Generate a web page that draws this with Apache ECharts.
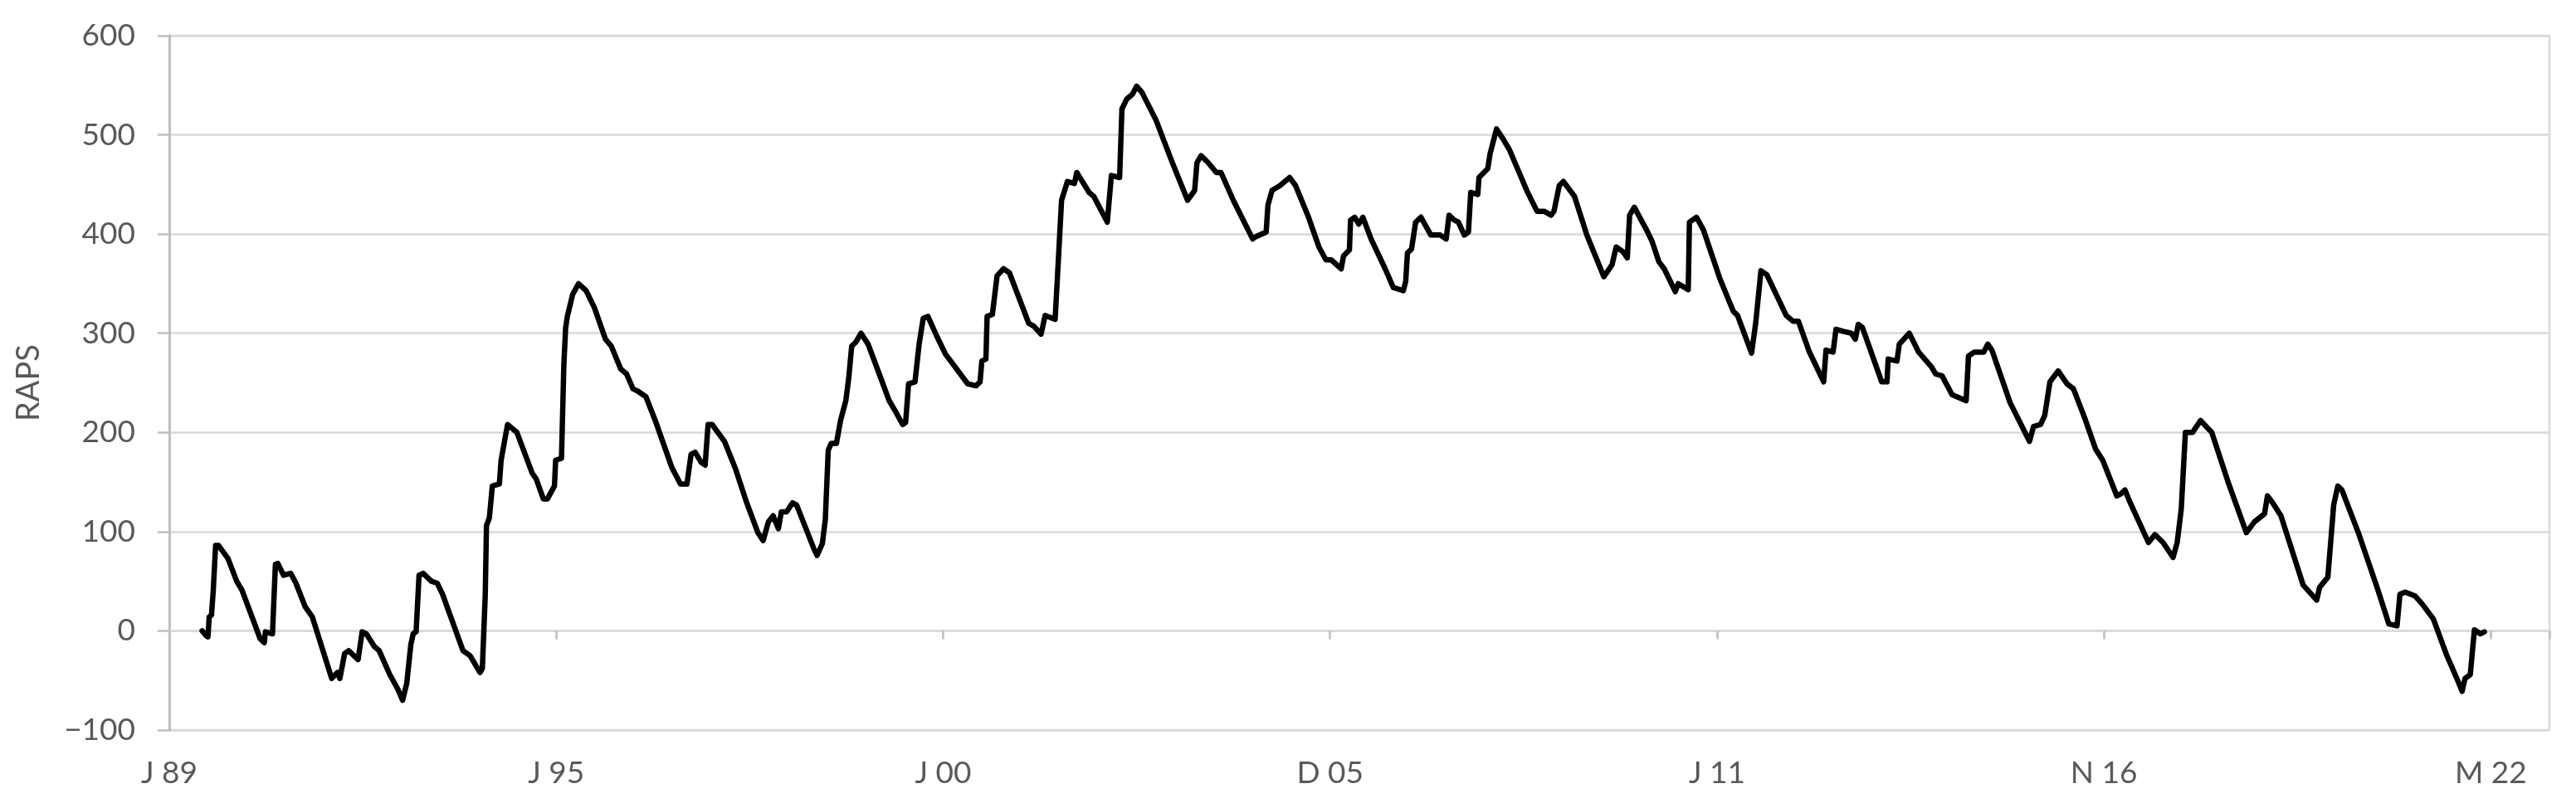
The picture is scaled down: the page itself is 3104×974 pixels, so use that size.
<!DOCTYPE html>
<html>
<head>
<meta charset="utf-8">
<script src="https://cdn.jsdelivr.net/npm/echarts@6/dist/echarts.min.js"></script>
<style>
  html, body { margin: 0; padding: 0; background: #fff; }
  #main { width: 3104px; height: 974px; }
</style>
</head>
<body>
<div id="main"></div>
<script>
// tick labels, one every 66 steps along the x axis
var tickLabels = ['J 89', 'J 95', 'J 00', 'D 05', 'J 11', 'N 16', 'M 22'];
var tickStep = 66;

// position along the axis (same units as tickStep) and RAPS value
var xPos = [
  5.6, 6.3, 6.6, 6.8, 7.2, 7.5, 7.9, 8.4, 10.0, 11.5, 12.4, 15.5, 16.2, 16.4, 17.6, 18.1, 18.5, 19.5, 20.7, 21.6,
  23.2, 24.4, 27.7, 28.7, 29.1, 29.9, 30.6, 32.2, 32.9, 33.6, 35.0, 35.8, 37.6, 39.0, 39.8, 40.5, 41.2, 41.6, 42.1, 42.6,
  43.3, 44.7, 45.7, 46.6, 50.1, 51.3, 53.0, 53.4, 53.9, 54.1, 54.6, 55.1, 56.3, 56.6, 56.9, 57.7, 59.3, 61.9, 62.6, 63.8,
  64.5, 65.7, 65.9, 66.9, 67.3, 67.6, 67.9, 68.8, 69.8, 71.1, 72.5, 74.4, 75.4, 77.0, 78.0, 79.1, 79.8, 81.3, 82.9, 85.7,
  87.2, 88.3, 89.0, 89.7, 90.7, 91.4, 91.9, 92.6, 94.7, 96.6, 98.5, 100.4, 101.3, 102.2, 103.0, 103.9, 104.4, 105.3, 106.3, 107.0,
  108.4, 110.0, 110.5, 111.4, 111.9, 112.4, 112.9, 113.8, 114.5, 115.4, 115.9, 116.4, 117.1, 118.0, 119.2, 121.1, 122.8, 123.7, 125.1, 125.6,
  126.1, 127.2, 127.9, 128.6, 129.4, 131.0, 132.4, 134.3, 136.2, 137.6, 138.3, 138.6, 139.3, 139.5, 140.4, 141.2, 142.3, 143.3, 146.6, 147.5,
  148.7, 149.4, 151.1, 151.5, 152.2, 153.2, 154.4, 154.8, 156.9, 157.7, 160.0, 160.7, 162.1, 162.5, 163.3, 164.3, 165.0, 165.9, 168.3, 171.1,
  173.7, 174.9, 175.3, 176.0, 177.2, 178.6, 179.4, 181.5, 184.8, 185.2, 187.1, 187.4, 188.1, 189.5, 191.1, 192.1, 194.2, 196.1, 197.3, 198.2,
  199.9, 200.3, 201.3, 201.5, 202.2, 202.9, 203.6, 205.0, 207.4, 208.8, 210.5, 210.9, 211.2, 211.9, 212.6, 213.5, 215.2, 216.8, 217.8, 218.3,
  219.2, 219.9, 220.9, 221.6, 222.0, 223.2, 223.4, 224.9, 225.3, 226.4, 227.5, 228.6, 231.7, 233.3, 234.5, 235.7, 236.2, 237.1, 237.8, 239.7,
  241.8, 244.7, 246.1, 246.8, 248.0, 248.7, 249.1, 249.9, 252.0, 252.9, 254.1, 255.0, 256.9, 257.4, 259.1, 259.3, 260.5, 261.7, 264.5, 266.8,
  267.5, 269.9, 270.6, 271.5, 272.5, 275.8, 277.0, 277.9, 279.7, 282.2, 282.6, 283.8, 284.3, 285.5, 286.9, 287.6, 288.1, 288.8, 292.1, 293.0,
  293.2, 294.7, 295.1, 296.8, 298.4, 300.6, 301.3, 302.4, 304.1, 306.5, 306.9, 307.9, 309.5, 310.2, 310.9, 314.0, 317.3, 318.0, 319.2, 319.9,
  320.8, 322.2, 323.7, 324.8, 326.7, 328.6, 329.8, 332.2, 332.9, 333.6, 334.5, 337.6, 338.7, 340.1, 341.8, 342.5, 343.2, 343.9, 345.1, 346.5,
  348.4, 351.3, 354.3, 355.7, 357.4, 357.9, 358.8, 360.2, 364.0, 366.3, 366.8, 368.2, 369.2, 369.9, 370.6, 373.4, 376.7, 378.6, 380.0, 380.5,
  381.4, 383.1, 384.3, 386.2, 388.5, 390.2, 391.1, 391.6, 392.5, 393.2, 394.2, 394.9
];
var raps = [
  0, -5, -6, 14, 16, 41, 86, 86, 73, 50, 41, -8, -12, -1, -3, 67, 68, 56, 58, 48,
  24, 14, -48, -42, -48, -23, -20, -29, -1, -3, -16, -20, -44, -59, -70, -53, -14, -3, -1, 56,
  58, 50, 48, 37, -20, -25, -42, -38, 37, 106, 114, 146, 148, 172, 182, 208, 200, 159, 153, 133,
  133, 146, 172, 174, 268, 305, 317, 339, 350, 343, 326, 294, 287, 264, 259, 244, 242, 236, 212, 165,
  148, 148, 178, 180, 170, 167, 208, 208, 191, 163, 129, 99, 91, 110, 116, 103, 120, 120, 129, 127,
  106, 82, 76, 88, 112, 182, 189, 189, 212, 232, 255, 287, 291, 300, 289, 259, 232, 223, 208, 210,
  249, 251, 289, 315, 317, 296, 279, 264, 249, 247, 251, 272, 274, 317, 319, 358, 365, 361, 310, 307,
  299, 318, 314, 357, 434, 453, 451, 462, 442, 438, 412, 459, 457, 526, 536, 541, 549, 543, 515, 472,
  434, 444, 472, 479, 472, 462, 462, 434, 395, 397, 402, 429, 444, 449, 457, 449, 419, 387, 374, 374,
  365, 378, 384, 414, 417, 410, 417, 395, 365, 346, 343, 352, 381, 385, 412, 417, 399, 399, 395, 419,
  414, 412, 399, 402, 442, 440, 457, 466, 481, 506, 496, 485, 442, 423, 423, 419, 423, 449, 453, 438,
  399, 357, 369, 387, 382, 376, 419, 427, 404, 393, 372, 365, 342, 350, 344, 412, 417, 404, 355, 322,
  318, 280, 310, 363, 359, 318, 312, 312, 282, 251, 283, 281, 304, 302, 300, 294, 309, 306, 251, 251,
  274, 272, 289, 300, 281, 266, 259, 257, 238, 232, 277, 281, 281, 289, 283, 230, 191, 206, 208, 217,
  251, 262, 249, 244, 215, 183, 172, 136, 138, 142, 129, 89, 97, 89, 74, 89, 123, 200, 200, 212,
  200, 148, 99, 110, 118, 136, 129, 116, 46, 31, 44, 54, 127, 146, 142, 99, 42, 7, 5, 37,
  39, 35, 27, 12, -25, -48, -61, -48, -44, 1, -3, -1
];

var textColor = '#595959';
var gridColor = '#d9d9d9';
var font = 'Lato, "Liberation Sans", sans-serif';

var myChart = echarts.init(document.getElementById('main'));

var xMax = 406;

function tickText(v) {
    var k = Math.round(v / tickStep);
    if (Math.abs(v - k * tickStep) > 0.01) return '';
    return tickLabels[k] || '';
}

var option = {
    animation: false,
    backgroundColor: '#ffffff',
    grid: {
        left: 204, right: 32, top: 43, bottom: 94,
        show: true, borderColor: gridColor, borderWidth: 2.5
    },
    xAxis: [
        {
            type: 'value', min: 0, max: xMax, interval: tickStep, position: 'bottom',
            axisLine: { show: false, onZero: false },
            axisTick: { show: false },
            splitLine: { show: false },
            axisLabel: {
                formatter: tickText, margin: 34, fontSize: 37, color: textColor,
                fontFamily: font, showMaxLabel: false
            }
        },
        {
            type: 'value', min: 0, max: xMax, interval: tickStep, position: 'bottom',
            axisLine: { show: true, onZero: true, lineStyle: { color: gridColor, width: 2.5 } },
            axisTick: { show: true, length: 10, lineStyle: { color: '#bfbfbf', width: 2.5 } },
            axisLabel: { show: false },
            splitLine: { show: false }
        }
    ],
    yAxis: {
        type: 'value', min: -100, max: 600, interval: 100,
        name: 'RAPS', nameLocation: 'middle', nameGap: 150,
        nameTextStyle: { fontSize: 38, color: textColor, fontFamily: font },
        axisLine: { show: true, onZero: false, lineStyle: { color: '#bfbfbf', width: 3 } },
        axisTick: { show: true, length: 14, lineStyle: { color: '#bfbfbf', width: 2.5 } },
        splitLine: { show: true, lineStyle: { color: gridColor, width: 2.5 } },
        axisLabel: {
            margin: 41, fontSize: 37, color: textColor, fontFamily: font,
            formatter: function (v) { return v < 0 ? '\u2212' + (-v) : String(v); }
        }
    },
    series: [
        {
            name: 'RAPS',
            type: 'line',
            xAxisIndex: 0,
            showSymbol: false,
            data: xPos.map(function (x, i) { return [x, raps[i]]; }),
            lineStyle: { color: '#000000', width: 6.5, cap: 'round', join: 'round' }
        }
    ]
};

myChart.setOption(option);
</script>
</body>
</html>
